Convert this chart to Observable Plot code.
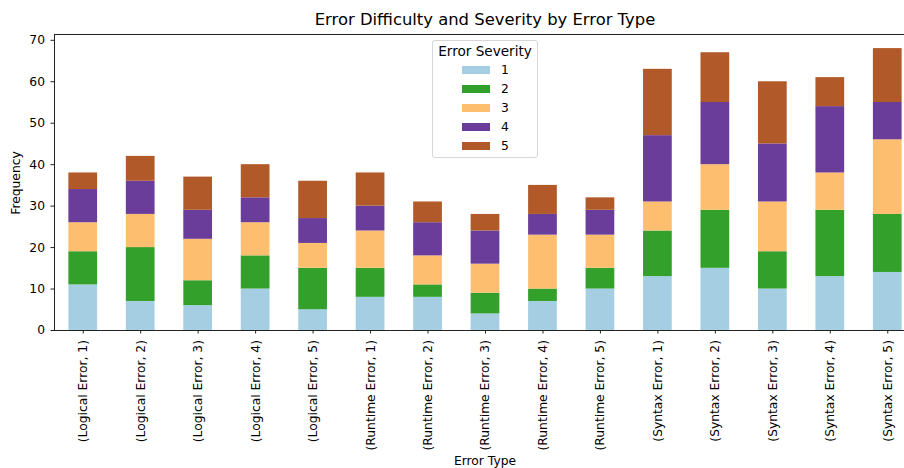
<!DOCTYPE html>
<html>
<head>
<meta charset="utf-8">
<script src="https://cdn.jsdelivr.net/npm/d3@7"></script>
<script src="https://cdn.jsdelivr.net/npm/@observablehq/plot@0.6"></script>
<style>
  html, body { margin: 0; padding: 0; background: white; overflow: hidden; }
  body { width: 904px; height: 468px; position: relative; font-family: "DejaVu Sans", sans-serif; color: #000; }
  #title { position: absolute; left: 0; width: 970px; top: 10px; text-align: center; font-size: 16.4px; line-height: 20px; }
  #ylabel { position: absolute; left: 15.5px; top: 183px; transform: translate(-50%, -50%) rotate(-90deg); font-size: 12.3px; white-space: nowrap; }
  #xlabel { position: absolute; left: 0; width: 970px; top: 454px; text-align: center; font-size: 12.3px; line-height: 14px; }
  #legend { position: absolute; left: 432px; top: 40px; width: 106px; height: 118px; box-sizing: border-box; border: 1px solid #d6d6d6; border-radius: 3px; background: rgba(255,255,255,0.85); font-size: 12.3px; }
  #legend .lt { position: absolute; left: 0; width: 100%; top: 1px; text-align: center; font-size: 13.6px; line-height: 18px; }
  #legend .sw { position: absolute; left: 28.5px; width: 28px; height: 8.5px; }
  #legend .lb { position: absolute; left: 68px; line-height: 14px; }
  #chart { position: absolute; left: 0; top: 0; }
</style>
</head>
<body>
<div id="chart"></div>
<div id="title">Error Difficulty and Severity by Error Type</div>
<div id="ylabel">Frequency</div>
<div id="xlabel">Error Type</div>
<div id="legend"></div>
<script>
const errorTypes = ["Logical Error", "Runtime Error", "Syntax Error"];
const difficulties = [1, 2, 3, 4, 5];
const severities = ["1", "2", "3", "4", "5"];
const severityColors = ["#a6cee3", "#33a02c", "#fdbf6f", "#6a3d9a", "#b15928"];
// values per bar, order: Logical 1..5, Runtime 1..5, Syntax 1..5
const sev1 = [11, 7, 6, 10, 5, 8, 8, 4, 7, 10, 13, 15, 10, 13, 14];
const sev2 = [8, 13, 6, 8, 10, 7, 3, 5, 3, 5, 11, 14, 9, 16, 14];
const sev3 = [7, 8, 10, 8, 6, 9, 7, 7, 13, 8, 7, 11, 12, 9, 18];
const sev4 = [8, 8, 7, 6, 6, 6, 8, 8, 5, 6, 16, 15, 14, 16, 9];
const sev5 = [4, 6, 8, 8, 9, 8, 5, 4, 7, 3, 16, 12, 15, 7, 13];
const yTicks = [0, 10, 20, 30, 40, 50, 60, 70];

const categories = [];
errorTypes.forEach(t => difficulties.forEach(d => categories.push(`(${t}, ${d})`)));
const seriesValues = [sev1, sev2, sev3, sev4, sev5];
const rows = [];
categories.forEach((c, i) => {
  severities.forEach((s, j) => rows.push({category: c, severity: s, value: seriesValues[j][i]}));
});

const chart = Plot.plot({
  width: 920,
  height: 468,
  marginTop: 34,
  marginBottom: 138,
  marginLeft: 54,
  marginRight: 4,
  style: "max-width:none; overflow:visible; font-family:'DejaVu Sans', sans-serif; font-size:12.3px; color:#000; background:white;",
  x: {domain: categories, paddingInner: 0.5, paddingOuter: 0.25, round: false},
  y: {domain: [0, 71.4]},
  color: {domain: severities, range: severityColors},
  marks: [
    Plot.barY(rows, {x: "category", y: "value", fill: "severity", inset: 0}),
    Plot.frame({stroke: "#222", strokeWidth: 1}),
    Plot.axisY({ticks: yTicks, tickSize: 3.5, tickPadding: 6, label: null, fontSize: 12.3, stroke: "#222"}),
    Plot.axisX({tickRotate: -90, tickSize: 3.5, tickPadding: 6, label: null, fontSize: 12.3, stroke: "#222"})
  ]
});
document.getElementById("chart").appendChild(chart);

const legend = document.getElementById("legend");
const lt = document.createElement("div");
lt.className = "lt";
lt.textContent = "Error Severity";
legend.appendChild(lt);
severities.forEach((s, i) => {
  const cy = 29 + i * 19;
  const sw = document.createElement("div");
  sw.className = "sw";
  sw.style.top = (cy - 4.25) + "px";
  sw.style.background = severityColors[i];
  legend.appendChild(sw);
  const lb = document.createElement("div");
  lb.className = "lb";
  lb.style.top = (cy - 7) + "px";
  lb.textContent = s;
  legend.appendChild(lb);
});
</script>
</body>
</html>
